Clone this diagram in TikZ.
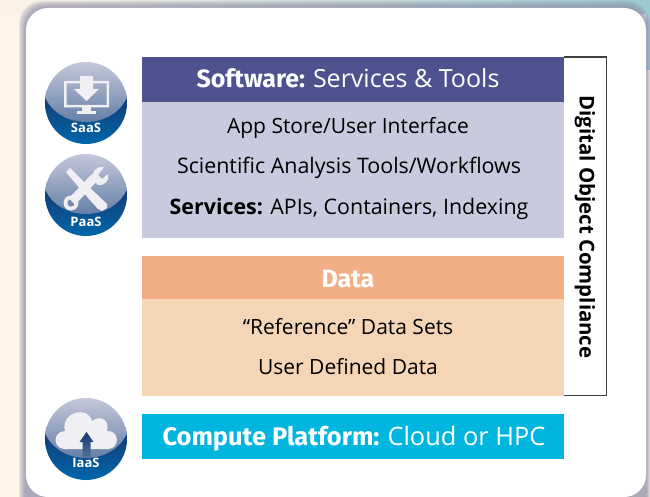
\documentclass[tikz,border=0pt]{standalone}
\usepackage{fontspec}
\setmainfont{Open Sans}
\newfontfamily\headfont{Fira Sans}
\newfontfamily\plainhead{Open Sans}
\definecolor{swHead}{HTML}{4E528F}
\definecolor{swBody}{HTML}{C9CADD}
\definecolor{dataHead}{HTML}{F2AF85}
\definecolor{dataBody}{HTML}{F4D6B6}
\definecolor{cpu}{HTML}{00B5DE}
\definecolor{ringDark}{HTML}{15356F}
\definecolor{ringLow}{HTML}{0068AC}
\definecolor{lensTop}{HTML}{C6C9DB}
\definecolor{lensLow}{HTML}{56749F}
\definecolor{iconWhite}{HTML}{F0F0F4}
\definecolor{edgeShade}{HTML}{8F8CA8}
\definecolor{creamBg}{HTML}{FDF3E6}
\definecolor{topMid}{HTML}{D9CFCF}
\definecolor{topTeal}{HTML}{9CCBD0}
\tikzset{
  x=1pt,y=-1pt,
  band/.style={inner sep=0pt,outer sep=0pt,anchor=north west,minimum width=422pt},
  headtext/.style={font=\headfont\fontsize{25}{28}\selectfont,text=white,anchor=base},
  bodytext/.style={font=\fontsize{21}{24}\selectfont,text=black,anchor=base},
  bodywide/.style={font=\fontsize{21.4}{24}\selectfont,text=black,anchor=base},
  badge/.style={font=\bfseries\fontsize{13}{15}\selectfont,text=white,anchor=center},
  glyph/.style={fill=iconWhite,draw=none},
}
\newcommand{\orb}[2]{%
  \begin{scope}[shift={(#1,#2)}]
    \begin{scope}
      \clip (0,0) circle[radius=41];
      \path[top color=ringDark,middle color=ringDark,bottom color=ringLow] (-42,-12) rectangle (42,42);
      \path[top color=lensTop,bottom color=lensLow] (-42,-42) -- (42,-42) -- (42,-8) .. controls (28,28) and (-28,28) .. (-42,-8) -- cycle;
    \end{scope}
  \end{scope}}
\begin{document}
\begin{tikzpicture}
\useasboundingbox (0,0) rectangle (650,497);
% backdrop
\fill[creamBg] (0,0) rectangle (650,497);
\shade[left color=creamBg,middle color=topMid,right color=topTeal] (0,0) rectangle (650,14);
\fill[topTeal] (610,0) -- (650,0) -- (650,70) -- (646,70) -- (646,14) -- cycle;
% card with soft edge
\foreach \d in {7,6,5,4,3,2,1}{
  \fill[edgeShade,opacity=0.16,rounded corners=23pt] (26-\d,530) rectangle (646+0.6*\d,8-\d);
}
\fill[white,rounded corners=22pt] (26,497) rectangle (646,8);
% compliance frame
\node[inner sep=0pt,minimum width=42pt,minimum height=338pt,anchor=north west] (frame) at (564,57) {};
\draw[draw=black!75,line width=1.3pt] (frame.north west) -- (frame.north east) -- (frame.south east) -- (frame.south west);
\node[font=\bfseries\fontsize{20.4}{24}\selectfont,rotate=-90,text=black] (doc) at (585,227) {Digital Object Compliance};
% software
\node[band,fill=swHead,minimum height=45pt] (swh) at (142,57) {};
\node[band,fill=swBody,minimum height=136pt] (swb) at (142,102) {};
\node[headtext] (swt) at (348,88) {\textbf{Software:}\hspace{-1pt} {\plainhead Services \& Tools}};
\node[bodytext] (sw1) at (348,134) {App Store/User Interface};
\node[bodywide] (sw2) at (349,174) {Scientific Analysis Tools/Workflows};
\node[bodywide] (sw3) at (349,214) {\textbf{Services:} APIs, Containers, Indexing};
% data
\node[band,fill=dataHead,minimum height=43pt] (dh) at (142,256) {};
\node[band,fill=dataBody,minimum height=97pt] (db) at (142,299) {};
\node[headtext] (dt) at (348,287) {\textbf{Data}};
\node[bodytext] (d1) at (348,334) {“Reference” Data Sets};
\node[bodytext] (d2) at (348,374) {User Defined Data};
% compute
\node[band,fill=cpu,minimum height=45pt] (cp) at (142,414) {};
\node[headtext,font=\headfont\fontsize{25.4}{28}\selectfont] (cpt) at (354,445) {\textbf{Compute Platform:}\hspace{-1pt} {\plainhead Cloud or HPC}};
% SaaS
\orb{86}{103}
\fill[glyph,even odd rule] (64,81) rectangle (109,107.5) (66.5,83.5) rectangle (106.5,105);
\fill[glyph] (82,107) rectangle (91,112);
\fill[glyph] (77,111.5) rectangle (96,114.5);
\fill[glyph] (80,76) -- (93,76) -- (93,89) -- (99,89) -- (86.5,101) -- (74,89) -- (80,89) -- cycle;
\node[badge] (saas) at (86,128) {SaaS};
% PaaS
\orb{86}{195}
\fill[glyph] (66,172) -- (70,168) -- (86,184) -- (107,204) -- (107,208) -- (102,211) -- (98,209) -- (81,190) -- cycle;
\fill[glyph] (69,198) -- (92,174) -- (98,180) -- (75,205) -- cycle;
\fill[glyph] (104,167) .. controls (95,166) and (91,173) .. (93,180) -- (98,185) .. controls (105,186) and (110,180) .. (108,174) -- (102,179) -- (98,175) -- cycle;
\fill[glyph,even odd rule] (71,203) circle[radius=7.5] (71,203) circle[radius=3.8];
\node[badge] (paas) at (86,222) {PaaS};
% IaaS
\orb{86}{439}
\fill[glyph] (64,449) .. controls (53,448) and (52,432) .. (65,431) .. controls (60,412) and (88,405) .. (92,421) .. controls (101,414) and (110,421) .. (107,431) .. controls (120,430) and (120,449) .. (108,449) -- cycle;
\path[top color=ringDark,bottom color=lensLow] (90.5,458) -- (90.5,442) -- (93.5,442) -- (86.5,432) -- (79.5,442) -- (82.5,442) -- (82.5,458) -- cycle;
\node[badge] (iaas) at (86,463) {IaaS};
\end{tikzpicture}
\end{document}
